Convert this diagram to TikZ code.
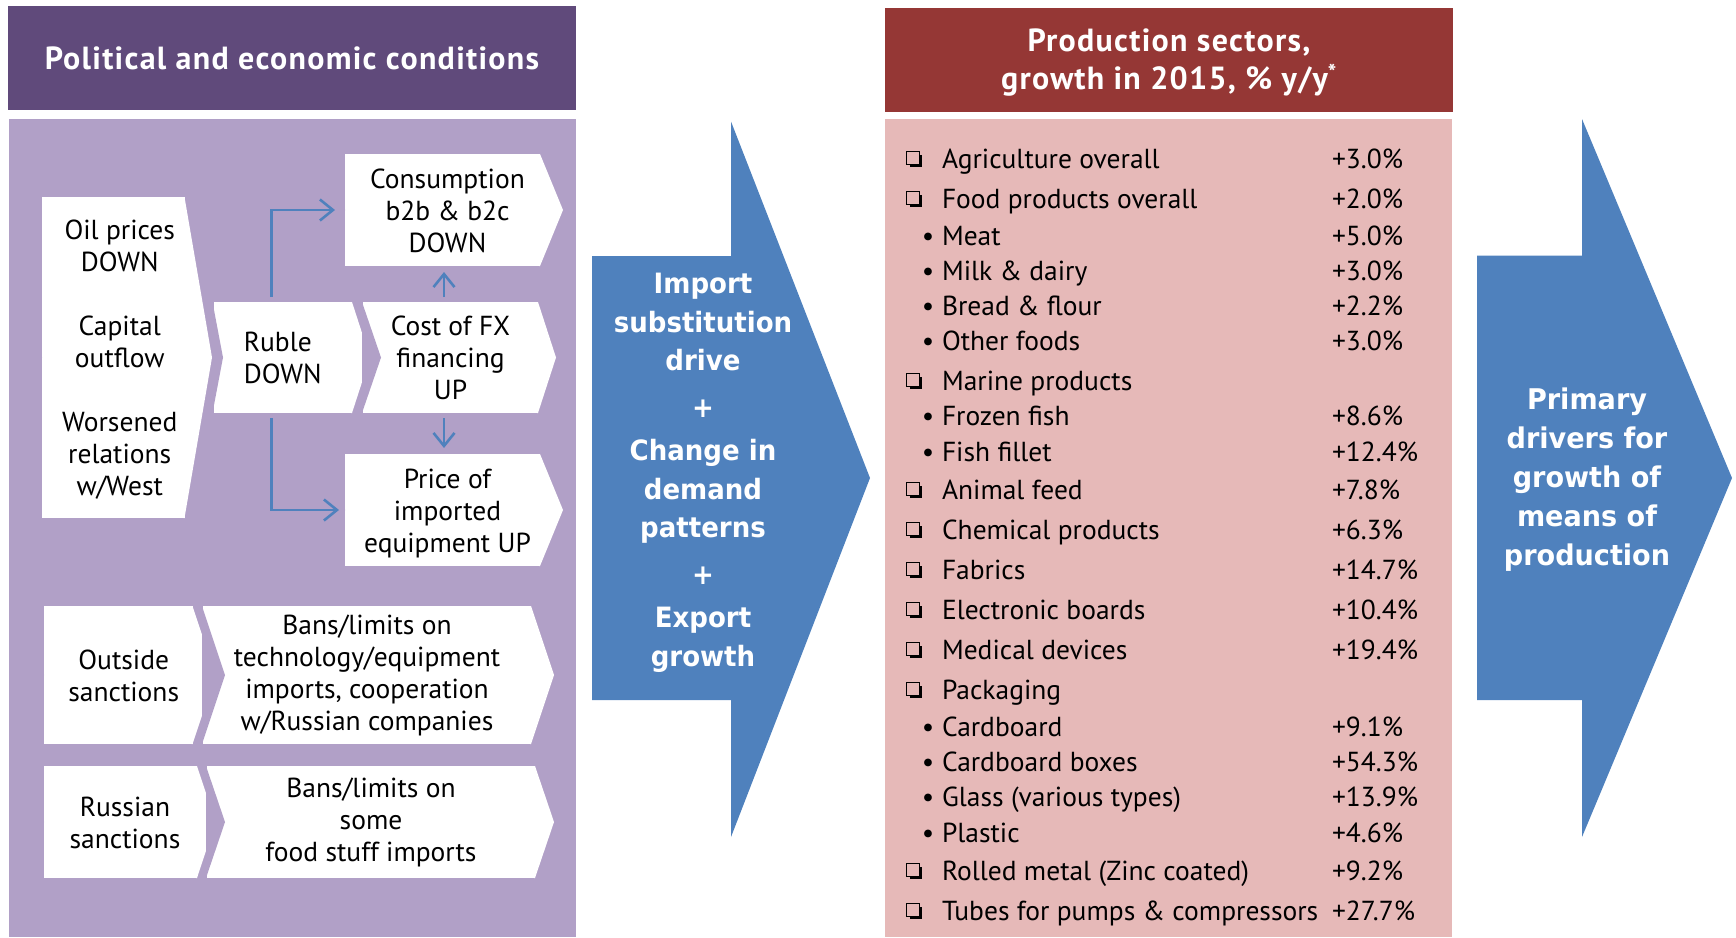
\documentclass[tikz,border=0pt]{standalone}
\usepackage{fontspec}
\setmainfont{PT Sans}
\newfontfamily\hdfam{PT Sans}[LetterSpace=4]
\newfontfamily\arrowfontA{DejaVu Sans Bold}[FakeStretch=0.93]
\newfontfamily\arrowfontB{DejaVu Sans Bold}[FakeStretch=0.95]
\usetikzlibrary{arrows.meta,shadows}
\definecolor{hdrP}{RGB}{96,74,123}
\definecolor{panP}{RGB}{177,160,199}
\definecolor{hdrR}{RGB}{149,55,53}
\definecolor{panR}{RGB}{230,185,184}
\definecolor{arrB}{RGB}{79,129,189}
\newcommand{\txtA}{\fontsize{27.5pt}{32pt}\selectfont}
\newcommand{\hdfont}{\hdfam\bfseries\fontsize{32pt}{38pt}\selectfont}
\newcommand{\bul}{•}
% text block shifted right by #1/2 and down by 3.8pt
\newcommand{\shtxt}[2]{\hspace*{#1pt}\raisebox{-3.8pt}[\height][\depth]{\begin{tabular}{@{}c@{}}#2\end{tabular}}}
% tip on the right and notch on the left of a box node
\newcommand{\chevdeco}[4]{%
  \fill[white] ([xshift=-1pt]#1.north east) -- (#1.north east) -- ([xshift=#2pt]#1.east)
     -- (#1.south east) -- ([xshift=-1pt]#1.south east) -- cycle;
  \fill[#4] ([xshift=-1pt]#1.north west) -- ([xshift=#3pt]#1.west) -- ([xshift=-1pt]#1.south west) -- cycle;
}
\begin{document}
\begin{tikzpicture}[x=1pt,y=-1pt,
  box/.style={fill=white, inner sep=0pt, outer sep=0pt, align=center, font=\txtA},
  band/.style={inner sep=0pt, outer sep=0pt},
  conn/.style={draw=arrB, line width=2.6pt, -{Straight Barb[length=13pt,width=21pt]}},
  listitem/.style={anchor=base west, font=\txtA, inner sep=0pt, outer sep=0pt},
  mkstyle/.style={anchor=base, inner sep=0pt, outer sep=0pt, font=\txtA},
  cbox/.style={draw=black, line width=1.2pt, fill=panR, minimum size=12.5pt, inner sep=0pt, outer sep=0pt,
     drop shadow={shadow xshift=3pt, shadow yshift=-3pt, opacity=1, fill=black}},
  drvtext/.style={text=white, align=center, inner sep=0pt}
]
\useasboundingbox (0,0) rectangle (1736,937);

% ---------- left column ----------
\node[band, fill=hdrP, minimum width=568, minimum height=104, text=white, font=\hdfont] (hdrL) at (292,58) {Political and economic conditions};
\node[band, fill=panP, minimum width=567, minimum height=818] (panL) at (292.5,528) {};

\node[box, minimum width=142.5, minimum height=321] (oil) at (113.25,357.5)
  {\shtxt{13}{Oil prices\\DOWN\\~\\Capital\\outflow\\~\\Worsened\\relations\\w/West}};
\chevdeco{oil}{27.5}{0}{panP}
\node[box, align=left, minimum width=138.5, minimum height=111] (ruble) at (282.75,357.5) {Ruble\\DOWN};
\chevdeco{ruble}{18}{9.5}{panP}
\node[box, minimum width=175, minimum height=111] (cost) at (450.5,357.5) {Cost of FX\\financing\\UP};
\chevdeco{cost}{18}{18}{panP}
\node[box, minimum width=195, minimum height=112] (cons) at (442.5,210) {\shtxt{10}{Consumption\\b2b \& b2c\\DOWN}};
\chevdeco{cons}{23}{0}{panP}
\node[box, minimum width=195, minimum height=112] (price) at (442.5,510) {\shtxt{10}{Price of\\imported\\equipment UP}};
\chevdeco{price}{23}{0}{panP}

\node[box, minimum width=148.5, minimum height=138] (outside) at (118.25,675) {\shtxt{11}{Outside\\sanctions}};
\chevdeco{outside}{23}{0}{panP}
\node[box, minimum width=328, minimum height=138] (banstech) at (367,675)
  {Bans/limits on\\technology/equipment\\imports, cooperation\\w/Russian companies};
\chevdeco{banstech}{23}{22}{panP}
\node[box, minimum width=153, minimum height=112] (russian) at (120.5,822) {\shtxt{9}{Russian\\sanctions}};
\chevdeco{russian}{18.5}{0}{panP}
\node[box, minimum width=328, minimum height=112] (bansfood) at (371,822) {Bans/limits on\\some\\food stuff imports};
\chevdeco{bansfood}{19}{18}{panP}

% connectors
\coordinate (rN) at ([xshift=-11pt]ruble.north);
\coordinate (rS) at ([xshift=-11pt]ruble.south);
\coordinate (cN) at ([xshift=-6.5pt]cost.north);
\coordinate (cS) at ([xshift=-6.5pt]cost.south);
\draw[conn, shorten <=5pt, shorten >=10pt] (rN) |- (cons.west);
\draw[conn, shorten <=5pt, shorten >=6pt] (rS) |- (price.west);
\draw[conn, shorten <=5pt, shorten >=6pt] (cN) -- (cN |- cons.south);
\draw[conn, shorten <=5pt, shorten >=6pt] (cS) -- (cS |- price.north);

% ---------- middle arrow ----------
\fill[arrB] (592,256) -- (731,256) -- (731,121.5) -- (870,478) -- (731,837) -- (731,700) -- (592,700) -- cycle;
\node[drvtext, font=\arrowfontA\fontsize{28pt}{38.5pt}\selectfont] (drv1) at (703,473)
  {Import\\substitution\\drive\\[8pt]+\\[5pt]Change in\\demand\\patterns\\[8pt]+\\[5pt]Export\\growth};

% ---------- right column ----------
\node[band, fill=hdrR, minimum width=568, minimum height=104, text=white, font=\hdfont] (hdrR) at (1169,60)
  {\raisebox{-3pt}[\height][\depth]{\begin{tabular}{@{}c@{}}Production sectors,\\growth in 2015, \% y/y\textsuperscript{*}\end{tabular}}};
\node[band, fill=panR, minimum width=567, minimum height=818] (panR) at (1168.5,528) {};

\foreach \yy/\mx/\tx/\vv [count=\i] in {
  160/914/Agriculture overall/+3.0\%,
  200/914/Food products overall/+2.0\%,
  237/928/Meat/+5.0\%,
  272/928/Milk \& dairy/+3.0\%,
  307/928/Bread \& flour/+2.2\%,
  342/928/Other foods/+3.0\%,
  382/914/Marine products/{},
  417/928/Frozen fish/+8.6\%,
  453/928/Fish fillet/+12.4\%,
  491/914/Animal feed/+7.8\%,
  531/914/Chemical products/+6.3\%,
  571/914/Fabrics/+14.7\%,
  611/914/Electronic boards/+10.4\%,
  651/914/Medical devices/+19.4\%,
  691/914/Packaging/{},
  728/928/Cardboard/+9.1\%,
  763/928/Cardboard boxes/+54.3\%,
  798/928/Glass (various types)/+13.9\%,
  834/928/Plastic/+4.6\%,
  872/914/Rolled metal (Zinc coated)/+9.2\%,
  912/914/Tubes for pumps \& compressors/+27.7\%}
{
  \ifdim\mx pt<920pt
    \node[cbox] (mk\i) at (913,\yy-2) {};
  \else
    \node[mkstyle] (mk\i) at (928,\yy+8) {\bul};
  \fi
  \node[listitem] (it\i) at (942,\yy+8) {\tx};
  \node[listitem] (val\i) at (1332,\yy+8) {\vv};
}

% ---------- right arrow ----------
\fill[arrB] (1477,255.5) -- (1582,255.5) -- (1582,119) -- (1732,478) -- (1582,837) -- (1582,700) -- (1477,700) -- cycle;
\node[drvtext, font=\arrowfontB\fontsize{28.5pt}{39pt}\selectfont] (drv2) at (1587,480)
  {Primary\\drivers for\\growth of\\means of\\production};
\end{tikzpicture}
\end{document}
